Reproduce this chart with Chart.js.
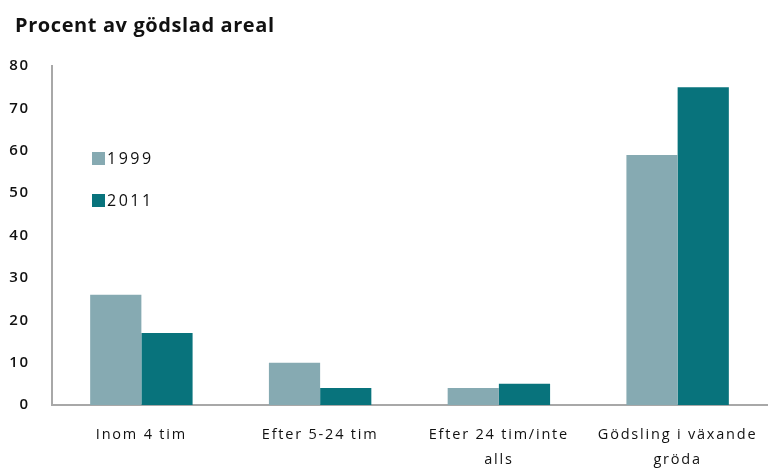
<!DOCTYPE html>
<html><head><meta charset="utf-8">
<script src="https://cdn.jsdelivr.net/npm/chart.js@4"></script>
<style>html,body{margin:0;padding:0;background:#fff;}canvas{display:block;}</style>
</head><body>
<canvas id="c" width="769" height="471"></canvas>
<script>
const categories = [["Inom 4 tim"], ["Efter 5-24 tim"], ["Efter 24 tim/inte", "alls"], ["Gödsling i växande", "gröda"]];
const series1999 = [26, 10, 4, 59];
const series2011 = [17, 4, 5, 75];
const seriesNames = ["1999", "2011"];
const yTicks = [0, 10, 20, 30, 40, 50, 60, 70, 80];
const titleText = "Procent av gödslad areal";

const FONT = "'Open Sans', 'DejaVu Sans', sans-serif";

const textStyle = {
  id: 'textStyle',
  beforeDraw(chart) { chart.ctx.letterSpacing = '1.8px'; },
  afterDraw(chart) {
    const ctx = chart.ctx;
    ctx.save();
    // title
    ctx.letterSpacing = '0.6px';
    ctx.font = "bold 20px " + FONT;
    ctx.fillStyle = '#111';
    ctx.textBaseline = 'middle';
    ctx.textAlign = 'left';
    ctx.fillText(titleText, 15, 26);
    // legend inside plot
    ctx.letterSpacing = '2.5px';
    ctx.font = "16px " + FONT;
    const ys = [158, 200];
    chart.data.datasets.forEach((ds, i) => {
      ctx.fillStyle = ds.backgroundColor;
      ctx.fillRect(92, ys[i] - 6, 13, 13);
      ctx.fillStyle = '#111';
      ctx.fillText(ds.label, 107, ys[i] + 1);
    });
    ctx.restore();
  }
};

new Chart(document.getElementById('c'), {
  type: 'bar',
  data: {
    labels: categories,
    datasets: [
      { label: seriesNames[0], data: series1999, backgroundColor: '#86AAB2' },
      { label: seriesNames[1], data: series2011, backgroundColor: '#08737C' }
    ]
  },
  options: {
    responsive: false,
    animation: false,
    layout: { padding: { left: 0, right: 2, top: 66, bottom: 0 } },
    datasets: { bar: { categoryPercentage: 0.573, barPercentage: 1.0 } },
    plugins: {
      legend: { display: false },
      tooltip: { enabled: false },
      title: { display: false }
    },
    scales: {
      x: {
        grid: { display: false, drawTicks: false },
        border: { display: true, color: '#a8a8a8', width: 2 },
        ticks: { color: '#111', font: { family: FONT, size: 14.5, lineHeight: 1.7 }, padding: 18, maxRotation: 0, autoSkip: false },
        afterFit(s) { s.height = 66; }
      },
      y: {
        min: 0, max: 80,
        afterBuildTicks(s) { s.ticks = yTicks.map(v => ({ value: v })); },
        grid: { display: false, drawTicks: false },
        border: { display: true, color: '#a8a8a8', width: 2 },
        ticks: { color: '#111', font: { family: FONT, size: 15, weight: '600' }, padding: 22 },
        afterFit(s) { s.width = 52; }
      }
    }
  },
  plugins: [textStyle]
});
</script>
</body></html>
